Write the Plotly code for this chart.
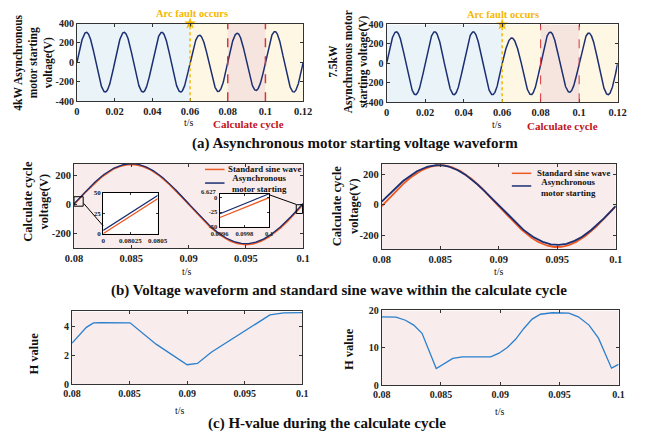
import numpy as np
import plotly.graph_objects as go

W, H = 649, 441
FONT = "Liberation Serif"

# ---------------- data ----------------
# (a) starting voltage: peak value of each 10 ms half-cycle, 0 .. 0.12 s
half_cycle_t0 = [0.00, 0.01, 0.02, 0.03, 0.04, 0.05, 0.06, 0.07, 0.08, 0.09, 0.10, 0.11]
peaks_4kw = [310, -305, 310, -305, 310, -305, 280, -300, 300, -288, 318, -305]
peaks_75kw = [325, -322, 325, -322, 325, -322, 262, -322, 322, -297, 312, -322]
fault_time = 0.06
calc_cycle = [0.08, 0.10]

# (b) calculate cycle, 0.08 .. 0.10 s
std_amp_left = 275          # standard sine wave amplitude (V)
motor_offset_left = [4.0, 6.6]   # motor waveform offset at start / end of cycle (V)
std_amp_right = 267
std_dc_right = -9.5
motor_peaks_right = [258, -262]  # positive / negative half-cycle peaks (V)
motor_phase_right = [0.08, -0.035]  # phase lead at start / end (rad)

# (c) H value during the calculate cycle
h_t_left = [0.08, 0.08124, 0.08186, 0.0825, 0.08504, 0.0873, 0.0900, 0.0909, 0.0921,
            0.0946, 0.0961, 0.0972, 0.0984, 0.1]
h_left = [2.83, 3.91, 4.22, 4.24, 4.22, 2.76, 1.35, 1.44, 2.2, 3.46, 4.22, 4.76, 4.9, 4.92]
h_t_right = [0.08, 0.0812, 0.0820, 0.0827, 0.0834, 0.0839, 0.0846, 0.0860, 0.0868, 0.0892,
             0.0899, 0.0906, 0.0913, 0.0920, 0.0927, 0.0934, 0.0944, 0.0958, 0.0966,
             0.0975, 0.0983, 0.0994, 0.1]
h_right = [18.3, 18.2, 17.4, 16.1, 13.9, 10.0, 4.5, 7.2, 7.6, 7.6, 8.6, 10.1, 12.3, 15.2,
           17.7, 19.0, 19.4, 19.3, 18.3, 16.1, 12.6, 4.6, 5.6]

# tick labels
ticks_a_x = [0, 0.02, 0.04, 0.06, 0.08, 0.1, 0.12]
ticks_a_x_text = ["0", "0.02", "0.04", "0.06", "0.08", "0.1", "0.12"]
ticks_a_y = [-400, -200, 0, 200, 400]
ticks_a_y_text = ["-400", "-200", "0", "200", "400"]
ticks_bc_x = [0.08, 0.085, 0.09, 0.095, 0.1]
ticks_bc_x_text = ["0.08", "0.085", "0.09", "0.095", "0.1"]
ticks_b_y = [-200, 0, 200]
ticks_b_y_text = ["-200", "0", "200"]
inset_right_top = 6.627

# ---------------- build waveforms ----------------
F = 50.0
t_a = np.linspace(0, 0.12, 2401)
idx = np.minimum((t_a / 0.01).astype(int), len(half_cycle_t0) - 1)
v_4kw = np.abs(np.array(peaks_4kw))[idx] * np.sin(2 * np.pi * F * t_a)
v_75kw = np.abs(np.array(peaks_75kw))[idx] * np.sin(2 * np.pi * F * t_a)

t_b = np.linspace(0.08, 0.1, 2001)
th = 2 * np.pi * F * (t_b - 0.08)
frac = (t_b - 0.08) / 0.02
std_left = std_amp_left * np.sin(th)
mot_left = std_amp_left * np.sin(th) + motor_offset_left[0] + (motor_offset_left[1] - motor_offset_left[0]) * frac
std_right = std_amp_right * np.sin(th) + std_dc_right
ph = motor_phase_right[0] + (motor_phase_right[1] - motor_phase_right[0]) * frac
s = np.sin(th + ph)
mot_right = np.where(s >= 0, motor_peaks_right[0], -motor_peaks_right[1]) * s

NAVY = "#1B2F72"
ORANGE = "#EE5A24"
MBLUE = "#2B7FCC"
GOLD = "#F5B700"
RED = "#C0141C"
FRAME = "#333333"

fig = go.Figure()

def tr(x, y, ax, color, width=1.5):
    fig.add_trace(go.Scatter(x=x, y=y, mode="lines", line=dict(color=color, width=width),
                             xaxis="x" + ax, yaxis="y" + ax, showlegend=False, hoverinfo="skip"))

tr(t_a, v_4kw, "", NAVY)
tr(t_a, v_75kw, "2", NAVY)
tr(t_b, std_left, "3", ORANGE, 1.8)
tr(t_b, mot_left, "3", NAVY, 1.3)
tr(t_b, std_right, "4", ORANGE, 1.8)
tr(t_b, mot_right, "4", NAVY, 1.8)
tr(h_t_left, h_left, "5", MBLUE, 1.3)
tr(h_t_right, h_right, "6", MBLUE, 1.3)
# insets re-use the calculate-cycle series
tr(t_b, mot_left, "7", NAVY, 1.3)
tr(t_b, std_left, "7", ORANGE, 1.3)
tr(t_b, mot_left, "8", NAVY, 1.3)
tr(t_b, std_left, "8", ORANGE, 1.3)

for ax in ["", "2"]:
    fig.add_trace(go.Scatter(x=[fault_time], y=[400], mode="markers",
                             marker=dict(symbol="star", size=9, color=GOLD),
                             xaxis="x" + ax, yaxis="y" + ax, cliponaxis=False,
                             showlegend=False, hoverinfo="skip"))


def px_x(p):
    return p / W


def px_y(p):
    return 1 - p / H


def axis(xd, yd, xr, yr, xt, xtt, yt, ytt, anchor_x, anchor_y, fs_x=10.5, fs_y=10):
    base = dict(showline=True, linecolor=FRAME, linewidth=1, mirror="ticks", ticks="inside",
                ticklen=3, tickcolor=FRAME, showgrid=False, zeroline=False)
    xa = dict(base, domain=[px_x(xd[0]), px_x(xd[1])], range=xr, tickvals=xt, ticktext=xtt,
              anchor=anchor_y, tickfont=dict(family=FONT, size=fs_x, color="#222", weight="bold"))
    ya = dict(base, domain=[px_y(yd[1]), px_y(yd[0])], range=yr, tickvals=yt, ticktext=ytt,
              anchor=anchor_x, tickfont=dict(family=FONT, size=fs_y, color="#222", weight="bold"))
    return xa, ya

layout_axes = {}
specs = [
    ("", (70, 303), (18, 98), [0, 0.12], [-400, 400], ticks_a_x, ticks_a_x_text, ticks_a_y, ticks_a_y_text, 10.5, 10),
    ("2", (389, 627), (19, 99), [0, 0.12], [-400, 400], ticks_a_x, ticks_a_x_text, ticks_a_y, ticks_a_y_text, 10.5, 10),
    ("3", (67, 303), (162, 249), [0.08, 0.1], [-300, 280], ticks_bc_x, ticks_bc_x_text, ticks_b_y, ticks_b_y_text, 10.5, 10.5),
    ("4", (384, 625), (162, 250), [0.08, 0.1], [-290, 268], ticks_bc_x, ticks_bc_x_text, ticks_b_y, ticks_b_y_text, 10.5, 10.5),
    ("5", (65, 302), (314, 389), [0.08, 0.1], [0, 5], ticks_bc_x, ticks_bc_x_text, [0, 2, 4], ["0", "2", "4"], 10, 10),
    ("6", (384, 628), (313, 390), [0.08, 0.1], [0, 20], ticks_bc_x, ticks_bc_x_text, [0, 10, 20], ["0", "10", "20"], 10, 10),
    ("7", (97, 153), (192, 234), [0.08, 0.0805], [0, 50], [0.08, 0.08025, 0.0805], ["0", "0.08025", "0.0805"], [0, 25, 50], ["0", "25", "50"], 7, 7),
    ("8", (217, 268), (193, 227), [0.0996, 0.1], [-50, inset_right_top], [0.0996, 0.0998, 0.1], ["0.0996", "0.0998", "0.1"], [-50, -25, 0, inset_right_top], ["-50", "-25", "0", ""], 6.5, 6.5),
]
for (a, xd, yd, xr, yr, xt, xtt, yt, ytt, fx, fy) in specs:
    xa, ya = axis(xd, yd, xr, yr, xt, xtt, yt, ytt, "x" + a, "y" + a, fx, fy)
    if a in ("7", "8"):
        xa["linecolor"] = ya["linecolor"] = "#000"
        xa["ticklen"] = ya["ticklen"] = 2
    layout_axes["xaxis" + a] = xa
    layout_axes["yaxis" + a] = ya

shapes = []
def rect(ax, x0, x1, y0, y1, color, layer="below"):
    shapes.append(dict(type="rect", xref="x" + ax, yref="y" + ax, x0=x0, x1=x1, y0=y0, y1=y1,
                       fillcolor=color, line=dict(width=0), layer=layer))

for ax in ["", "2"]:
    rect(ax, 0, fault_time, -400, 400, "#EAF3F8")
    rect(ax, fault_time, 0.12, -400, 400, "#FEF7E4")
    rect(ax, calc_cycle[0], calc_cycle[1], -400, 400, "#F6E4DE")
    shapes.append(dict(type="line", xref="x" + ax, yref="y" + ax, x0=fault_time, x1=fault_time,
                       y0=-400, y1=400, line=dict(color=GOLD, width=1.5, dash="dot"), layer="above"))
    for c in calc_cycle:
        shapes.append(dict(type="line", xref="x" + ax, yref="y" + ax, x0=c, x1=c, y0=-400, y1=400,
                           line=dict(color="#D8343C", width=1.5 if ax == "" else 1, dash="dash"), layer="above"))

rect("3", 0.08, 0.1, -300, 280, "#F8ECEC")
rect("4", 0.08, 0.1, -290, 268, "#F8ECEC")
rect("5", 0.08, 0.1, 0, 5, "#F8ECEC")
rect("6", 0.08, 0.1, 0, 20, "#F8ECEC")

# zoom boxes & connectors
shapes.append(dict(type="rect", xref="x3", yref="y3", x0=0.08, x1=0.0808, y0=-12, y1=53,
                   line=dict(color="#000", width=1), layer="above"))
shapes.append(dict(type="rect", xref="x3", yref="y3", x0=0.0994, x1=0.09995, y0=-62, y1=-2,
                   line=dict(color="#000", width=1), layer="above"))
shapes.append(dict(type="line", xref="paper", yref="paper", x0=px_x(77), y0=px_y(203),
                   x1=px_x(97), y1=px_y(226), line=dict(color="#000", width=1)))
shapes.append(dict(type="line", xref="paper", yref="paper", x0=px_x(268), y0=px_y(194),
                   x1=px_x(296), y1=px_y(204), line=dict(color="#000", width=1)))

# manual legends
def legline(x0, x1, y, color):
    shapes.append(dict(type="line", xref="paper", yref="paper", x0=px_x(x0), x1=px_x(x1),
                       y0=px_y(y), y1=px_y(y), line=dict(color=color, width=1.5)))

legline(202, 222, 168, ORANGE)
legline(202, 222, 182, NAVY)
legline(518, 538, 172, ORANGE)
legline(518, 538, 185, NAVY)

ann = []
def text(x, y, s, size, color="#111", bold=True, angle=0, xanchor="center", align="center"):
    ann.append(dict(x=px_x(x), y=px_y(y), xref="paper", yref="paper", text=s, showarrow=False,
                    textangle=angle, xanchor=xanchor, yanchor="middle", align=align,
                    font=dict(family=FONT, size=size, color=color, weight="bold" if bold else "normal")))

text(224, 168, "Standard sine wave", 8.8, xanchor="left")
text(258, 182, "Asynchronous<br>motor starting", 8.8)
text(542, 172, "Standard sine wave", 8.8, xanchor="left")
text(576, 187, "Asynchronous<br>motor starting", 8.8)

# inset top tick label, nudged up so it clears the "0" label
ann.append(dict(x=px_x(215), y=px_y(190.5), xref="paper", yref="paper", text=str(inset_right_top),
                showarrow=False, xanchor="right", yanchor="middle",
                font=dict(family=FONT, size=6.5, color="#222", weight="bold")))

# titles
text(356, 141, "(a) Asynchronous motor starting voltage waveform", 15)
text(340, 292, "(b) Voltage waveform and standard sine wave within the calculate cycle", 15)
text(328, 429, "(c) H-value during the calculate cycle", 15)

# y titles
text(25, 58, "4kW Asynchronous<br>motor starting<br>voltage(V)", 11.5, angle=-90)
text(350, 57, "7.5kW<br>Asynchronous motor<br>starting voltage(V)", 11.5, angle=-90)
text(27, 201, "Calculate cycle<br>voltage(V)", 12.5, angle=-90)
text(347, 205, "Calculate cycle<br>voltage(V)", 12.5, angle=-90)
text(26, 357, "H value", 12.5, angle=-90)
text(351, 353, "H value", 12.5, angle=-90)

# x titles
for (x, y) in [(185, 120), (503, 122), (183, 273), (505, 273), (176, 416), (506, 417)]:
    text(x, y, "t/s", 10, bold=False)

text(247, 121, "Calculate cycle", 11, color=RED)
text(570, 123, "Calculate cycle", 11, color=RED)
text(189, 8, "Arc fault occurs", 10.5, color=GOLD)
text(509, 9, "Arc fault occurs", 10.5, color=GOLD)

fig.update_layout(width=W, height=H, margin=dict(l=0, r=0, t=0, b=0),
                  paper_bgcolor="white", plot_bgcolor="white", showlegend=False,
                  shapes=shapes, annotations=ann, **layout_axes)

fig.write_html("out.html", config={"displayModeBar": False},
               post_script="document.body.style.margin='0';document.body.style.overflow='hidden';")
